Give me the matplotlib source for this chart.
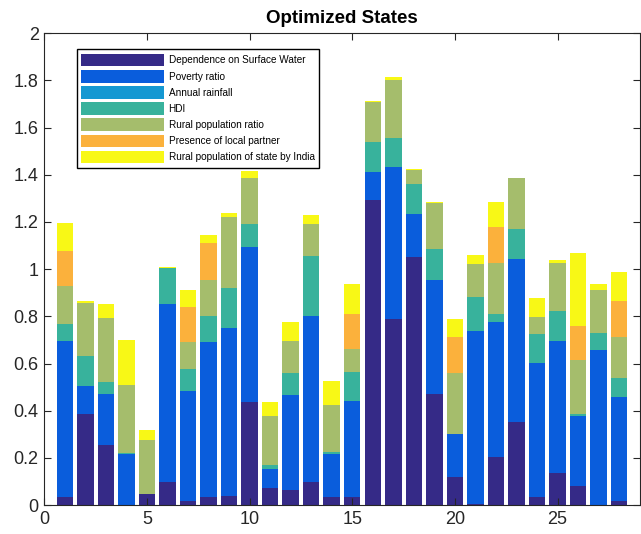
import numpy as np
import matplotlib
matplotlib.use("Agg")
import matplotlib.pyplot as plt

plt.rcParams["font.family"] = ["Liberation Sans", "DejaVu Sans"]

states = np.arange(1, 29)

labels = ["Dependence on Surface Water", "Poverty ratio", "Annual rainfall", "HDI",
          "Rural population ratio", "Presence of local partner",
          "Rural population of state by India"]

surface_water = [0.033, 0.385, 0.256, 0.0, 0.047, 0.098, 0.019, 0.033, 0.037, 0.436,
                 0.072, 0.066, 0.098, 0.033, 0.033, 1.295, 0.788, 1.050, 0.469, 0.119,
                 0.007, 0.206, 0.352, 0.033, 0.138, 0.083, 0.0, 0.019]
poverty = [0.662, 0.118, 0.213, 0.216, 0.0, 0.755, 0.463, 0.657, 0.715, 0.657,
           0.083, 0.401, 0.704, 0.184, 0.407, 0.116, 0.644, 0.184, 0.487, 0.184,
           0.731, 0.568, 0.690, 0.571, 0.557, 0.295, 0.659, 0.441]
rainfall = [0.0] * 28
hdi = [0.071, 0.130, 0.053, 0.007, 0.0, 0.151, 0.097, 0.112, 0.170, 0.097,
       0.015, 0.095, 0.255, 0.010, 0.125, 0.127, 0.125, 0.126, 0.131, 0.0,
       0.146, 0.038, 0.127, 0.122, 0.129, 0.007, 0.071, 0.079]
rural_ratio = [0.161, 0.222, 0.273, 0.287, 0.230, 0.0, 0.111, 0.154, 0.299, 0.198,
               0.208, 0.135, 0.133, 0.197, 0.098, 0.170, 0.245, 0.058, 0.193, 0.258,
               0.138, 0.216, 0.216, 0.073, 0.204, 0.230, 0.180, 0.173]
local_partner = [0.151, 0.0, 0.0, 0.0, 0.0, 0.0, 0.151, 0.153, 0.0, 0.0,
                 0.0, 0.0, 0.0, 0.0, 0.149, 0.0, 0.0, 0.0, 0.0, 0.151,
                 0.0, 0.151, 0.0, 0.0, 0.0, 0.144, 0.0, 0.152]
rural_india = [0.117, 0.012, 0.058, 0.189, 0.041, 0.007, 0.069, 0.037, 0.017, 0.028,
               0.058, 0.077, 0.041, 0.102, 0.123, 0.004, 0.014, 0.005, 0.004, 0.076,
               0.039, 0.105, 0.002, 0.078, 0.012, 0.309, 0.025, 0.122]

series = [surface_water, poverty, rainfall, hdi, rural_ratio, local_partner, rural_india]
colors = ["#352a87", "#0a5ddc", "#1598d2", "#38b29c", "#a5bd6c", "#fbb13c", "#f8f816"]

fig = plt.figure(figsize=(6.41, 5.34), dpi=100)
ax = fig.add_axes([0.069, 0.054, 0.929, 0.884])

bottom = np.zeros(len(states))
for vals, col, lab in zip(series, colors, labels):
    ax.bar(states, vals, width=0.8, bottom=bottom, color=col, label=lab, linewidth=0)
    bottom += np.array(vals)

ax.set_xlim(0, 29)
ax.set_ylim(0, 2)
ax.set_xticks([0, 5, 10, 15, 20, 25])
ax.set_yticks(np.arange(0, 2.01, 0.2))
ax.set_yticklabels(["0", "0.2", "0.4", "0.6", "0.8", "1", "1.2", "1.4", "1.6", "1.8", "2"])
ax.tick_params(direction="in", top=True, right=True, labelsize=13, length=5,
               colors="#262626", pad=4)
for s in ax.spines.values():
    s.set_color("#262626")
ax.set_title("Optimized States", fontsize=13.5, fontweight="bold", pad=7)

leg = ax.legend(loc="upper left", bbox_to_anchor=(0.046, 0.976), fontsize=7.2,
                handlelength=8.3, handleheight=1.55, labelspacing=0.36,
                handletextpad=0.45, borderpad=0.45, fancybox=False, framealpha=1)
leg.get_frame().set_edgecolor("black")
leg.get_frame().set_linewidth(1)

fig.savefig("out.png", dpi=100)
